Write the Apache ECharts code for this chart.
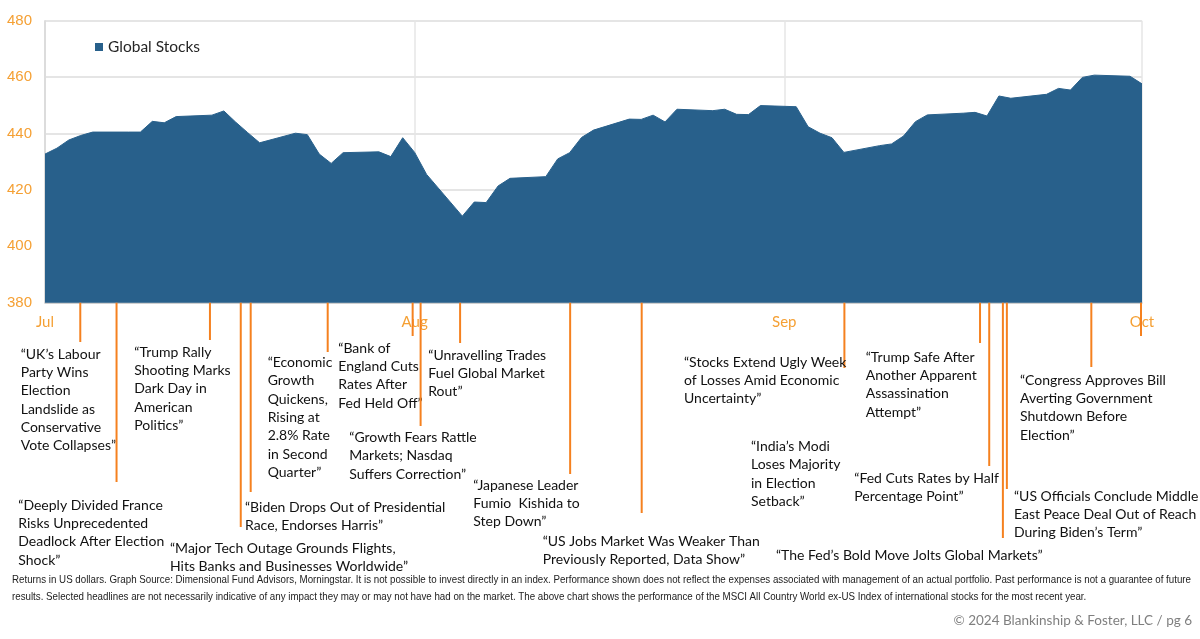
<!DOCTYPE html>
<html><head><meta charset="utf-8">
<script src="https://cdn.jsdelivr.net/npm/echarts@6/dist/echarts.min.js"></script>
<style>html,body{margin:0;padding:0;background:#fff}#c{width:1200px;height:639px}</style>
</head><body><div id="c"></div>
<script>
// ---------- DATA ----------
const seriesName = 'Global Stocks';
const dates = ['2024-07-01','2024-07-02','2024-07-03','2024-07-04','2024-07-05','2024-07-08','2024-07-09','2024-07-10','2024-07-11','2024-07-12',
 '2024-07-15','2024-07-16','2024-07-17','2024-07-18','2024-07-19','2024-07-22','2024-07-23','2024-07-24','2024-07-25','2024-07-26',
 '2024-07-29','2024-07-30','2024-07-31','2024-08-01','2024-08-02','2024-08-05','2024-08-06','2024-08-07','2024-08-08','2024-08-09',
 '2024-08-12','2024-08-13','2024-08-14','2024-08-15','2024-08-16','2024-08-19','2024-08-20','2024-08-21','2024-08-22','2024-08-23',
 '2024-08-26','2024-08-27','2024-08-28','2024-08-29','2024-08-30','2024-09-02','2024-09-03','2024-09-04','2024-09-05','2024-09-06',
 '2024-09-09','2024-09-10','2024-09-11','2024-09-12','2024-09-13','2024-09-16','2024-09-17','2024-09-18','2024-09-19','2024-09-20',
 '2024-09-23','2024-09-24','2024-09-25','2024-09-26','2024-09-27','2024-09-30','2024-10-01'];
const values = [432.7,434.8,437.7,439.3,440.5,440.5,440.5,444.3,443.8,446.0,
 446.5,448.0,444.0,440.3,436.7,440.1,439.6,432.7,429.4,433.2,
 433.5,431.8,438.5,433.3,425.5,410.7,415.7,415.5,421.4,424.1,
 424.7,431.0,433.2,438.6,441.2,445.1,445.0,446.5,444.1,448.6,
 448.1,448.6,446.8,446.7,449.9,449.5,442.4,440.1,438.5,433.3,
 435.7,436.3,439.1,444.2,446.6,447.2,447.5,446.2,453.3,452.5,
 453.9,456.0,455.4,459.9,460.7,460.3,457.6];
const yMin = 380, yMax = 480, yStep = 20;
const xStart = '2024-07-01', xEnd = '2024-10-01';
const monthLabels = ['Jul','Aug','Sep','Oct'];

const headlineTexts = [
 '“UK’s Labour\nParty Wins\nElection\nLandslide as\nConservative\nVote Collapses”',
 '“Deeply Divided France\nRisks Unprecedented\nDeadlock After Election\nShock”',
 '“Trump Rally\nShooting Marks\nDark Day in\nAmerican\nPolitics”',
 '“Major Tech Outage Grounds Flights,\nHits Banks and Businesses Worldwide”',
 '“Biden Drops Out of Presidential\nRace, Endorses Harris”',
 '“Economic\nGrowth\nQuickens,\nRising at\n2.8% Rate\nin Second\nQuarter”',
 '“Bank of\nEngland Cuts\nRates After\nFed Held Off”',
 '“Growth Fears Rattle\nMarkets; Nasdaq\nSuffers Correction”',
 '“Unravelling Trades\nFuel Global Market\nRout”',
 '“Japanese Leader\nFumio  Kishida to\nStep Down”',
 '“US Jobs Market Was Weaker Than\nPreviously Reported, Data Show”',
 '“Stocks Extend Ugly Week\nof Losses Amid Economic\nUncertainty”',
 '“India’s Modi\nLoses Majority\nin Election\nSetback”',
 '“Trump Safe After\nAnother Apparent\nAssassination\nAttempt”',
 '“Fed Cuts Rates by Half\nPercentage Point”',
 '“The Fed’s Bold Move Jolts Global Markets”',
 '“US Officials Conclude Middle\nEast Peace Deal Out of Reach\nDuring Biden’s Term”',
 '“Congress Approves Bill\nAverting Government\nShutdown Before\nElection”'
];
// marker date for each headline (null = no marker line)
const headlineDates = ['2024-07-03 23:00','2024-07-07 00:00','2024-07-14 20:00','2024-07-17 10:00','2024-07-18 06:00',
 '2024-07-24 17:00','2024-07-31 20:00','2024-08-01 12:00','2024-08-04 19:30','2024-08-14 01:00','2024-08-20 01:00',
 '2024-09-06 01:00', null,'2024-09-17 10:00','2024-09-18 04:30','2024-09-19 08:00','2024-09-19 16:00','2024-09-26 18:00'];
const extraMarkerDates = ['2024-09-30 22:00'];

const footerLines = [
 'Returns in US dollars. Graph Source: Dimensional Fund Advisors, Morningstar. It is not possible to invest directly in an index. Performance shown does not reflect the expenses associated with management of an actual portfolio. Past performance is not a guarantee of future',
 'results. Selected headlines are not necessarily indicative of any impact they may or may not have had on the market. The above chart shows the performance of the MSCI All Country World ex-US Index of international stocks for the most recent year.'
];
const copyrightText = '© 2024 Blankinship & Foster, LLC / pg 6';

// ---------- LAYOUT (pixels) ----------
// [line end y, text left x, text top y]
const headlineLayout = [
 [342,20.7,345],[482,18.3,496],[340,134.3,343],[527,170,539],[492,245,498],
 [352,267.7,353.5],[336,338.3,339],[426,349.3,428.5],[343,428.3,346],[474,473.3,476],[513,542.7,532.5],
 [368,684,353],[0,751,437.5],[343,865.7,348],[466,854.3,469],[538,776,546],[489,1014,487],[367,1020,371]
];
const extraMarkerEnd = [336];
const footerWidth = 1179;

const AREA = '#28608B', ORANGE_LBL = '#F5A034', ORANGE_LINE = '#F5811F';
const TXT_FONT = 'Lato, "Open Sans", sans-serif';
const FOOT_FONT = '11.5px "Liberation Sans", Arial, sans-serif';

const chart = echarts.init(document.getElementById('c'), null, {renderer:'canvas'});
const DAY = 86400000;
chart.setOption({
  animation:false,
  grid:{left:45,right:58,top:20.7,bottom:336.3,containLabel:false},
  legend:{show:true,left:95,top:39,padding:0,icon:'rect',itemWidth:8,itemHeight:8,itemGap:5,
    textStyle:{fontFamily:TXT_FONT,fontSize:15.5,color:'#262626'},data:[seriesName]},
  xAxis:{type:'time',min:xStart,max:xEnd,minInterval:28*DAY,maxInterval:31*DAY,
    axisLine:{show:true,lineStyle:{color:'#C8C8C8',width:1.5}},axisTick:{show:false},
    splitLine:{show:true,lineStyle:{color:'#E6E6E6',width:1.5}},
    axisLabel:{show:true,showMinLabel:true,showMaxLabel:true,margin:12,color:ORANGE_LBL,fontSize:15,fontFamily:TXT_FONT,
      formatter:function(v){const d=new Date(v);return monthLabels[d.getMonth()-6]||'';}}},
  yAxis:{type:'value',min:yMin,max:yMax,interval:yStep,
    axisLine:{show:true,lineStyle:{color:'#D9D9D9',width:1.5}},axisTick:{show:false},
    splitLine:{show:true,lineStyle:{color:'#DCDCDC',width:1.5}},
    axisLabel:{margin:13,color:ORANGE_LBL,fontSize:15,fontFamily:'"Liberation Sans", Arial, sans-serif'}},
  series:[{name:seriesName,type:'line',showSymbol:false,symbol:'none',
    data:dates.map((d,i)=>[d,values[i]]),
    itemStyle:{color:AREA},lineStyle:{color:AREA,width:1},areaStyle:{color:AREA,opacity:1},z:3}]
});

function buildGraphics(){
  const g=[];
  const y0 = chart.convertToPixel({yAxisIndex:0}, yMin);
  headlineTexts.forEach((t,i)=>{
    const L=headlineLayout[i];
    if(headlineDates[i]){
      const x = chart.convertToPixel({xAxisIndex:0}, headlineDates[i]);
      g.push({type:'line',z:10,shape:{x1:x,y1:y0,x2:x,y2:L[0]},style:{stroke:ORANGE_LINE,lineWidth:2}});
    }
    g.push({type:'text',z:10,x:L[1],y:L[2],style:{text:t,fill:'#111',font:'14px '+TXT_FONT,lineHeight:18.3,textVerticalAlign:'top',verticalAlign:'top'}});
  });
  extraMarkerDates.forEach((d,i)=>{
    const x = chart.convertToPixel({xAxisIndex:0}, d);
    g.push({type:'line',z:10,shape:{x1:x,y1:y0,x2:x,y2:extraMarkerEnd[i]},style:{stroke:ORANGE_LINE,lineWidth:2}});
  });
  const ctx = document.createElement('canvas').getContext('2d');
  ctx.font = FOOT_FONT;
  const sx = footerWidth / ctx.measureText(footerLines[0]).width;
  footerLines.forEach((t,i)=>{
    g.push({type:'text',x:12,y:580+i*17,scaleX:sx,style:{text:t,fill:'#222',font:FOOT_FONT,verticalAlign:'middle',textVerticalAlign:'middle'}});
  });
  g.push({type:'text',x:1192,y:621,style:{text:copyrightText,fill:'#7F7F7F',font:'13.5px '+TXT_FONT,align:'right',textAlign:'right',verticalAlign:'middle',textVerticalAlign:'middle'}});
  chart.setOption({graphic:g});
}
buildGraphics();
</script></body></html>
